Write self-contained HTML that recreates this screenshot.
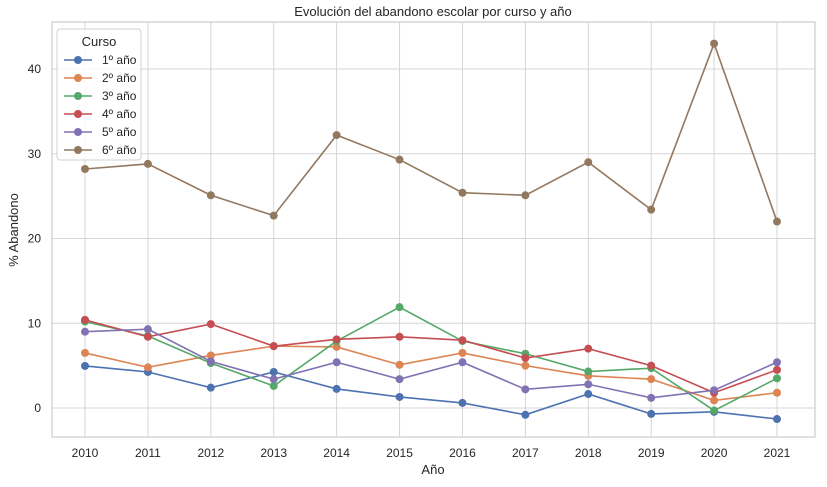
<!DOCTYPE html>
<html><head><meta charset="utf-8"><style>
body{margin:0;background:#fff;font-family:"Liberation Sans","DejaVu Sans",sans-serif}
</style></head><body>
<svg id="chart" width="827" height="482" xmlns="http://www.w3.org/2000/svg" font-family="Liberation Sans, DejaVu Sans, sans-serif"></svg>
<script>
const years=[2010,2011,2012,2013,2014,2015,2016,2017,2018,2019,2020,2021];
const seriesNames=["1º año","2º año","3º año","4º año","5º año","6º año"];
const s1=[4.96,4.25,2.4,4.25,2.25,1.3,0.6,-0.8,1.65,-0.7,-0.45,-1.3];
const s2=[6.5,4.8,6.2,7.3,7.2,5.1,6.5,5.0,3.8,3.4,0.9,1.8];
const s3=[10.2,8.5,5.3,2.6,7.9,11.9,7.9,6.4,4.3,4.7,-0.3,3.5];
const s4=[10.4,8.4,9.9,7.3,8.1,8.4,8.0,5.9,7.0,5.0,1.8,4.5];
const s5=[9.0,9.3,5.5,3.4,5.4,3.4,5.4,2.2,2.8,1.2,2.1,5.4];
const s6=[28.2,28.8,25.1,22.7,32.2,29.3,25.4,25.1,29.0,23.4,43.0,22.0];
const yTicks=[0,10,20,30,40];
const colors=["#4c72b0","#dd8452","#55a868","#c44e52","#8172b3","#937860"];
const all=[s1,s2,s3,s4,s5,s6];
const svg=document.getElementById('chart');
const NS="http://www.w3.org/2000/svg";
const L=52,R=815,T=22,B=437;
const x=i=>85+(777-85)*i/(years.length-1);
const y=v=>408-(408-69)*v/40;
function mk(tag,attrs,parent){const e=document.createElementNS(NS,tag);for(const k in attrs)e.setAttribute(k,attrs[k]);(parent||svg).appendChild(e);return e;}
const grid=mk('g',{});


years.forEach((yr,i)=>{
  mk('line',{x1:x(i),x2:x(i),y1:T,y2:B,stroke:'#d5d5d5','stroke-width':1},grid);
  const t=mk('text',{x:x(i),y:457,'text-anchor':'middle','font-size':12,fill:'#262626'});
  t.textContent=yr;
  
  
});
yTicks.forEach(v=>{
  mk('line',{x1:L,x2:R,y1:y(v),y2:y(v),stroke:'#d5d5d5','stroke-width':1},grid);
  const t=mk('text',{x:41,y:y(v)+4,'text-anchor':'end','font-size':12,fill:'#262626'});
  t.textContent=v;
  
  
});
const frame=mk('rect',{x:L,y:T,width:R-L,height:B-T,fill:'none',stroke:'#cccccc','stroke-width':1.2});


all.forEach((s,k)=>{
  const g=mk('g',{});
  
  
  mk('polyline',{points:s.map((v,i)=>x(i)+','+y(v)).join(' '),fill:'none',stroke:colors[k],'stroke-width':1.6},g);
  s.forEach((v,i)=>{
    const c=mk('circle',{cx:x(i),cy:y(v),r:4,fill:colors[k]},g);
    
    
  });
});
const title=mk('text',{x:433,y:16,'text-anchor':'middle','font-size':13,fill:'#262626'});
title.textContent="Evolución del abandono escolar por curso y año";


const xl=mk('text',{x:433,y:474,'text-anchor':'middle','font-size':13,fill:'#262626'});
xl.textContent="Año";


const yl=mk('text',{x:18,y:230,'text-anchor':'middle','font-size':13,fill:'#262626',transform:'rotate(-90 18 230)'});
yl.textContent="% Abandono";


const lg=mk('g',{});


mk('rect',{x:57,y:29,width:84,height:131,rx:3,fill:'#fff','fill-opacity':0.85,stroke:'#d0d0d0'},lg);
const lt=mk('text',{x:99,y:46,'text-anchor':'middle','font-size':13,fill:'#262626'},lg);
lt.textContent="Curso";
seriesNames.forEach((n,k)=>{
  const yy=60+k*18;
  const e=mk('g',{},lg);
  
  
  mk('line',{x1:64,x2:92,y1:yy,y2:yy,stroke:colors[k],'stroke-width':1.6},e);
  mk('circle',{cx:78,cy:yy,r:4,fill:colors[k]},e);
  const t=mk('text',{x:102,y:yy+4,'font-size':12,fill:'#262626'},e);
  t.textContent=n;
});
</script>
</body></html>
